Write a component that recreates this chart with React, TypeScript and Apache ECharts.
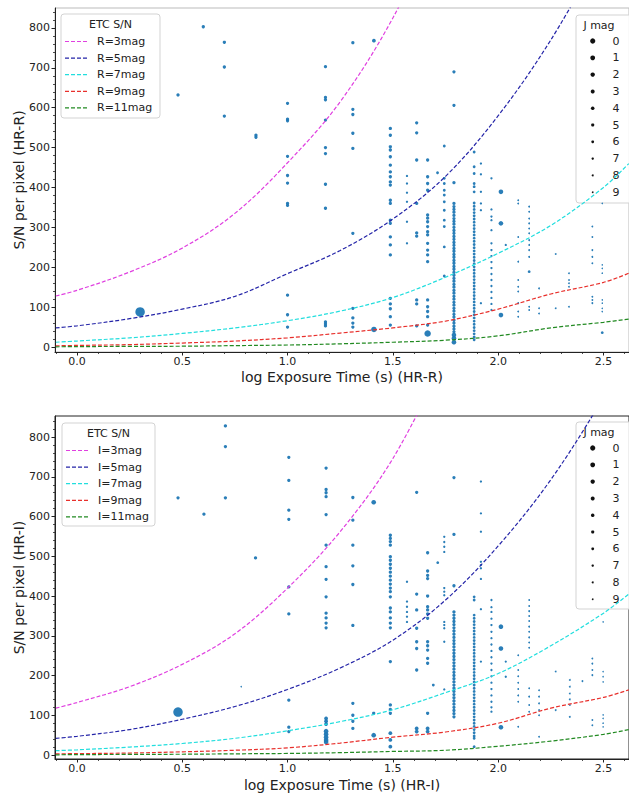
import React, { useEffect, useRef } from "react";
import * as echarts from "echarts";

const FONT = "DejaVu Sans";
const TXT = "#222";
const DOT = "#1f77b4";

// ---- axes ----
const X_MIN = -0.104;
const X_MAX = 2.621;
const X_TICKS = [0, 0.5, 1.0, 1.5, 2.0, 2.5];
const Y_TICKS = [0, 100, 200, 300, 400, 500, 600, 700, 800];
const TOP_Y = [-12.5, 850];
const BOT_Y = [-10, 853];

// ---- ETC S/N curves (log t, S/N) ----
const CURVE_X = [-0.1, 0, 0.25, 0.5, 0.75, 1.0, 1.25, 1.5, 1.75, 2.0, 2.25, 2.5, 2.62];
const R3 = [128, 142, 188, 248, 335, 462, 615, 825, 1100, null, null, null, null];
const R5 = [48, 53, 71, 95, 127, 184, 242, 321, 428, 580, 770, 1000, null];
const R7 = [12, 15, 23, 34, 48, 66, 90, 124, 175, 235, 305, 400, 460];
const R9 = [3, 4, 6, 10, 15, 23, 35, 48, 65, 95, 133, 162, 185];
const R11 = [0.5, 1, 1.5, 2, 3.5, 5, 8, 12, 17, 28, 48, 62, 70];

const I3 = [118, 132, 172, 228, 305, 420, 562, 746, 1000, null, null, null, null];
const I5 = [42, 47, 64, 90, 122, 165, 219, 289, 390, 526, 693, 900, 1020];
const I7 = [11, 13, 20, 29, 42, 61, 84, 114, 157, 205, 275, 357, 405];
const I9 = [3, 3.5, 5, 8, 12, 18, 30, 45, 58, 80, 118, 145, 164];
const I11 = [0.5, 1, 1.5, 2, 3, 4, 6, 9, 12, 22, 35, 52, 64];

const CURVE_COLORS = ["#e040e0", "#2525a8", "#22dede", "#e8302c", "#228a22"];
const TOP_NAMES = ["R=3mag", "R=5mag", "R=7mag", "R=9mag", "R=11mag"];
const BOT_NAMES = ["I=3mag", "I=5mag", "I=7mag", "I=9mag", "I=11mag"];

// ---- observations: [log t, J mag, S/N values] ----
const TOP_OBS: [number, number, number[]][] = [
  [0.30, 0, [88]],
  [0.48, 5, [632]],
  [0.60, 5, [803]],
  [0.70, 5, [764, 702, 579]],
  [0.85, 5, [531, 526]],
  [1.0, 5, [611, 571, 567, 478, 430, 411, 360, 355, 130, 81, 50]],
  [1.18, 5, [703, 626, 620, 569, 500, 485, 408, 348, 63, 58, 53]],
  [1.31, 5, [763, 596, 583, 536, 498, 285, 97, 73, 60, 50]],
  [1.41, 4, [768]],
  [1.41, 2, [44]],
  [1.488, 5, [548, 531, 502, 494, 477, 456, 439, 427, 414, 406, 368, 360, 318, 310, 276, 256, 231, 122, 108, 96, 76, 55]],
  [1.567, 7, [429, 410, 387, 364, 314, 260]],
  [1.613, 5, [562, 537, 469, 360, 286, 278, 118, 108, 53]],
  [1.665, 5, [469, 427, 410, 393, 331, 323, 314, 302, 289, 281, 260, 243, 231, 214, 118, 101, 89, 76, 55]],
  [1.665, 1, [34]],
  [1.712, 6, [437]],
  [1.744, 6, [504, 423, 410, 393, 381, 364, 343, 318, 302, 251, 178]],
  [1.79, 5, [690, 606, 412, 360, 352, 345, 338, 330, 322, 315, 308, 300, 292, 285, 277, 270, 262, 255, 247, 240, 232, 225, 217, 210, 202, 195, 187, 180, 172, 165, 157, 150, 142, 135, 127, 120, 112, 105, 97, 90, 82, 75, 67, 60, 52, 45, 38]],
  [1.79, 3, [30, 22, 12]],
  [1.886, 6, [489, 452, 435, 410, 402, 389, 361, 353, 345, 337, 329, 321, 313, 305, 297, 289, 281, 273, 265, 257, 249, 241, 233, 225, 217, 209, 201, 193, 185, 177, 169, 161, 153, 145, 137, 129, 121, 113, 105, 97, 89, 81, 73, 65, 57, 49, 41, 33, 25, 18]],
  [1.918, 7, [460, 433, 389, 360, 343, 110]],
  [1.968, 7, [423, 345, 327, 318, 293, 260, 243, 228, 213, 198, 183, 168, 153, 138, 123, 108, 93]],
  [2.013, 3, [389, 310, 80]],
  [2.036, 7, [256]],
  [2.095, 8, [368, 360, 276, 214, 168, 151, 139, 110, 89, 76]],
  [2.147, 8, [352, 339, 322, 310, 297, 285, 268, 256, 243, 226, 101, 93]],
  [2.147, 6, [189]],
  [2.194, 8, [147, 97, 84]],
  [2.273, 8, [233, 97]],
  [2.336, 8, [185, 168, 160, 151, 101]],
  [2.447, 8, [302, 276, 243, 226, 210, 126, 118, 110]],
  [2.494, 9, [360, 206, 197, 185, 118, 110, 97, 89]],
  [2.494, 6, [36]],
];

const BOT_OBS: [number, number, number[]][] = [
  [0.48, 0, [108]],
  [0.48, 5, [647]],
  [0.603, 5, [606]],
  [0.705, 5, [828, 776, 647]],
  [0.78, 9, [172]],
  [0.848, 5, [496]],
  [1.006, 5, [749, 691, 616, 593, 423, 355, 138, 70, 59]],
  [1.183, 5, [722, 668, 660, 650, 605, 528, 474, 442, 398, 357, 345, 332, 320]],
  [1.183, 4, [92, 85, 78]],
  [1.183, 3, [60, 52, 45, 38, 33]],
  [1.31, 5, [648, 591, 528, 476, 429, 326, 130, 100, 85, 67]],
  [1.409, 3, [636, 50]],
  [1.409, 5, [105]],
  [1.488, 5, [553, 545, 537, 528, 499, 490, 480, 470, 460, 450, 440, 430, 420, 411, 398, 370, 360, 345, 332, 320, 235, 126, 115, 105]],
  [1.488, 4, [55, 38, 21]],
  [1.567, 7, [436, 386, 373, 360, 348, 335]],
  [1.613, 5, [661, 405, 365, 319, 285, 268, 214]],
  [1.613, 4, [67, 59]],
  [1.665, 5, [509, 463, 452, 444, 400, 373, 365, 355, 344, 285, 275, 264, 243, 231, 105]],
  [1.665, 4, [67, 59]],
  [1.692, 6, [176]],
  [1.713, 6, [484]],
  [1.744, 7, [549, 536, 524, 511, 420, 411, 402, 335, 327, 319, 285, 165]],
  [1.79, 5, [698, 555, 426, 360, 352, 344, 336, 328, 320, 312, 304, 296, 288, 280, 272, 264, 256, 248, 240, 232, 224, 216, 208, 200, 192, 184, 176, 168, 160, 152, 144, 136, 128, 120, 112, 104, 96]],
  [1.886, 6, [398, 390, 352, 344, 336, 328, 320, 312, 304, 296, 288, 280, 272, 264, 256, 248, 240, 232, 224, 216, 208, 200, 192, 184, 176, 168, 160, 152, 144, 136, 128, 120, 112, 104, 96, 88, 80, 72, 64, 56, 48, 42, 21]],
  [1.918, 7, [688, 608, 562, 486, 478, 470, 443, 367, 235]],
  [1.968, 7, [390, 372, 360, 343, 327, 310, 294, 278, 262, 246, 230, 214, 198, 182, 166, 150, 134, 120, 109]],
  [2.013, 3, [323, 268, 70]],
  [2.036, 7, [235, 197]],
  [2.095, 8, [251, 214, 198, 182, 166, 150, 134, 71]],
  [2.147, 8, [390, 375, 362, 350, 337, 323, 310, 296, 283, 270, 168, 147, 126, 109]],
  [2.194, 8, [163, 147, 130, 113, 100, 46]],
  [2.273, 8, [210, 113]],
  [2.34, 8, [189, 172, 155, 140, 126, 96]],
  [2.40, 8, [186]],
  [2.447, 8, [243, 230, 214, 201, 88, 75]],
  [2.498, 9, [335, 210, 197, 184, 101, 92, 80, 71]],
];

const J_LABELS = ["0", "1", "2", "3", "4", "5", "6", "7", "8", "9"];
const J_SIZE = [9.5, 6.5, 5.5, 4.6, 3.8, 3.3, 2.8, 2.3, 1.8, 1.5];
const J_LEGEND_SIZE = [5.2, 4.8, 4.4, 4.0, 3.6, 3.2, 2.8, 2.4, 2.0, 1.7];

function minorTicks(lo: number, hi: number, step: number, majorStep: number) {
  const out: number[] = [];
  for (let k = Math.ceil(lo / step); k * step <= hi; k++) {
    const v = +(k * step).toFixed(4);
    if (Math.abs(v / majorStep - Math.round(v / majorStep)) > 1e-6) out.push(v);
  }
  return out;
}

function xAxes(gridIndex: number, name: string, gap: number) {
  return [
    {
      type: "value", gridIndex, min: X_MIN, max: X_MAX, position: "bottom",
      name, nameLocation: "middle", nameGap: gap, nameMoveOverlap: false,
      nameTextStyle: { fontFamily: FONT, fontSize: 14, color: TXT },
      axisLine: { show: true, onZero: false, lineStyle: { color: TXT, width: 1 } },
      axisTick: { show: true, length: 3.5, customValues: X_TICKS, lineStyle: { color: TXT, width: 1 } },
      axisLabel: { customValues: X_TICKS, formatter: (v: number) => v.toFixed(1), fontFamily: FONT, fontSize: 11, color: TXT, margin: 4 },
      splitLine: { show: false },
    },
    {
      type: "value", gridIndex, min: X_MIN, max: X_MAX, position: "bottom",
      axisLine: { show: false, onZero: false },
      axisTick: { show: true, length: 2, customValues: minorTicks(X_MIN, X_MAX, 0.1, 0.5), lineStyle: { color: TXT, width: 0.8 } },
      axisLabel: { show: false },
      splitLine: { show: false },
    },
  ];
}

function yAxes(gridIndex: number, range: number[], name: string) {
  return [
    {
      type: "value", gridIndex, min: range[0], max: range[1], position: "left",
      name, nameLocation: "middle", nameGap: 29, nameMoveOverlap: false,
      nameTextStyle: { fontFamily: FONT, fontSize: 14, color: TXT },
      axisLine: { show: true, onZero: false, lineStyle: { color: TXT, width: 1 } },
      axisTick: { show: true, length: 3.5, customValues: Y_TICKS, lineStyle: { color: TXT, width: 1 } },
      axisLabel: { customValues: Y_TICKS, fontFamily: FONT, fontSize: 11, color: TXT, margin: 5 },
      splitLine: { show: false },
    },
    {
      type: "value", gridIndex, min: range[0], max: range[1], position: "left",
      axisLine: { show: false, onZero: false },
      axisTick: { show: true, length: 2, customValues: minorTicks(range[0], range[1], 20, 100), lineStyle: { color: TXT, width: 0.8 } },
      axisLabel: { show: false },
      splitLine: { show: false },
    },
  ];
}

function curveSeries(axisBase: number, names: string[], curves: (number | null)[][]) {
  return curves.map((c, i) => ({
    type: "line",
    name: names[i],
    xAxisIndex: axisBase,
    yAxisIndex: axisBase,
    data: CURVE_X.map((x, k) => [x, c[k]]).filter((p) => p[1] !== null),
    smooth: 0.35,
    showSymbol: false,
    symbol: "none",
    clip: true,
    z: 4,
    lineStyle: { color: CURVE_COLORS[i], width: 1.2, type: [4, 2] },
  }));
}

function scatterSeries(axisBase: number, obs: [number, number, number[]][]) {
  const data: number[][] = [];
  obs.forEach(([x, j, vals]) => vals.forEach((v) => data.push([x, v, j])));
  return {
    type: "scatter",
    xAxisIndex: axisBase,
    yAxisIndex: axisBase,
    data,
    symbol: "circle",
    symbolSize: (d: number[]) => J_SIZE[d[2]],
    itemStyle: { color: DOT, opacity: 0.95 },
    clip: true,
    z: 3,
  };
}

function etcLegend(x: number, y: number, w: number, h: number, names: string[]) {
  const rowY0 = y + 27.5;
  const step = 16.6;
  const children: any[] = [
    { type: "rect", shape: { x, y, width: w, height: h, r: 3 }, style: { fill: "rgba(255,255,255,0.85)", stroke: "#d3d3d3", lineWidth: 1 } },
    { type: "text", x: x + w / 2, y: y + 10, style: { text: "ETC S/N", fontFamily: FONT, fontSize: 11, fill: TXT, align: "center", verticalAlign: "middle" } },
  ];
  names.forEach((n, i) => {
    const yy = rowY0 + i * step;
    children.push({ type: "line", shape: { x1: x + 4, y1: yy, x2: x + 28, y2: yy }, style: { stroke: CURVE_COLORS[i], lineWidth: 1.2, lineDash: [4, 2] } });
    children.push({ type: "text", x: x + 36, y: yy, style: { text: n, fontFamily: FONT, fontSize: 11, fill: TXT, align: "left", verticalAlign: "middle" } });
  });
  return { type: "group", z: 100, children };
}

function jLegend(x: number, y: number, h: number) {
  const children: any[] = [
    { type: "rect", shape: { x, y, width: 62, height: h, r: 3 }, style: { fill: "rgba(255,255,255,0.85)", stroke: "#d3d3d3", lineWidth: 1 } },
    { type: "text", x: x + 23, y: y + 10, style: { text: "J mag", fontFamily: FONT, fontSize: 11, fill: TXT, align: "center", verticalAlign: "middle" } },
  ];
  J_LABELS.forEach((lab, i) => {
    const yy = y + 26 + i * 16.8;
    children.push({ type: "circle", shape: { cx: x + 16.7, cy: yy, r: J_LEGEND_SIZE[i] / 2 }, style: { fill: "#111" } });
    children.push({ type: "text", x: x + 40, y: yy, style: { text: lab, fontFamily: FONT, fontSize: 11, fill: TXT, align: "center", verticalAlign: "middle" } });
  });
  return { type: "group", z: 100, children };
}

export default function App() {
  const ref = useRef<HTMLDivElement>(null);
  useEffect(() => {
    if (!ref.current) return;
    const chart = echarts.init(ref.current, null, { renderer: "svg" });
    const option: any = {
      animation: false,
      backgroundColor: "#fff",
      textStyle: { fontFamily: FONT },
      grid: [
        { left: 55, top: 8, width: 575, height: 344, show: true, borderColor: "#bbbbbb", borderWidth: 1, containLabel: false },
        { left: 55, top: 416, width: 575, height: 343, show: true, borderColor: TXT, borderWidth: 1, containLabel: false },
      ],
      xAxis: [...xAxes(0, "log Exposure Time (s) (HR-R)", 18), ...xAxes(1, "log Exposure Time (s) (HR-I)", 19)],
      yAxis: [...yAxes(0, TOP_Y, "S/N per pixel (HR-R)"), ...yAxes(1, BOT_Y, "S/N per pixel (HR-I)")],
      series: [
        scatterSeries(0, TOP_OBS),
        ...curveSeries(0, TOP_NAMES, [R3, R5, R7, R9, R11]),
        scatterSeries(2, BOT_OBS),
        ...curveSeries(2, BOT_NAMES, [I3, I5, I7, I9, I11]),
      ],
      graphic: [
        etcLegend(61, 14, 99, 104, TOP_NAMES),
        etcLegend(62, 423, 93, 103, BOT_NAMES),
        jLegend(576, 15, 188),
        jLegend(576, 422, 187),
      ],
    };
    chart.setOption(option);
    return () => chart.dispose();
  }, []);
  return <div ref={ref} style={{ position: "absolute", left: 0, top: 0, width: 629, height: 796 }} />;
}
